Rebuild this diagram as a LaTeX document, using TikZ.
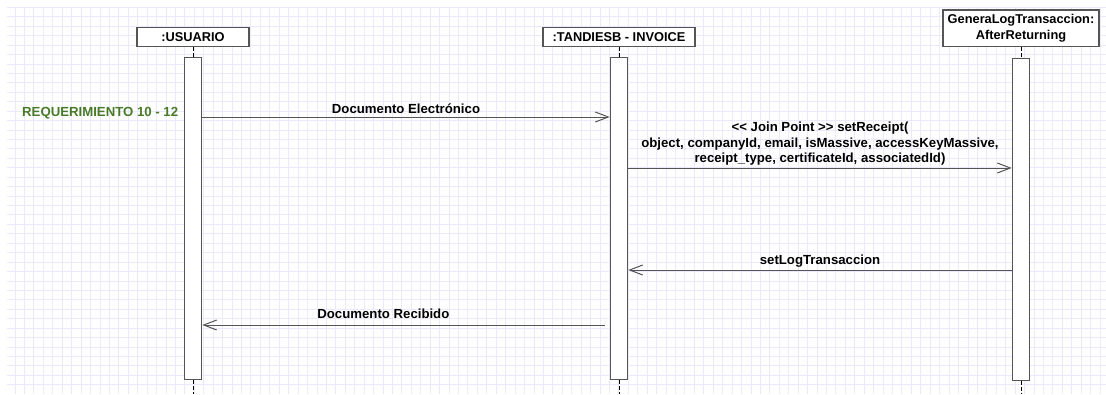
\documentclass[tikz,border=0pt]{standalone}
\usepackage{fontspec}
\setmainfont{Liberation Sans}
\usetikzlibrary{arrows.meta,positioning}
\definecolor{gridblue}{RGB}{234,234,252}
\definecolor{umlgray}{RGB}{85,85,85}
\definecolor{reqgreen}{RGB}{72,122,40}

\begin{document}
\begin{tikzpicture}[
  x=1pt, y=-1pt,
  font=\fontsize{13.2}{15.5}\selectfont\bfseries,
  head/.style={draw=umlgray, line width=1.1pt, fill=white, align=center, minimum height=19pt, inner sep=1pt, font=\fontsize{12.8}{15.5}\selectfont\bfseries},
  bar/.style={draw=umlgray, line width=1.1pt, fill=white, minimum width=17.5pt, minimum height=322pt, inner sep=0pt},
  life/.style={black, line width=0.8pt, dash pattern=on 4pt off 2pt},
  msg/.style={-{Straight Barb[length=13pt,width=10pt]}, draw=umlgray, line width=1pt},
  gridline/.style={gridblue, line width=0.8pt}
]
\useasboundingbox (0,0) rectangle (1106,394);
\fill[white] (0,0) rectangle (1106,394);
\foreach \gx in {0,...,115} \draw[gridline] ({15+\gx*9.435},7) -- ({15+\gx*9.435},394);
\foreach \gy in {0,...,40} \draw[gridline] (7,{7.3+\gy*9.435}) -- (1106,{7.3+\gy*9.435});

\coordinate (m0) at (0,113);
\coordinate (m1) at (0,117);
\coordinate (m2) at (0,168);
\coordinate (m3) at (0,270);
\coordinate (m4) at (0,325);
\coordinate (bot) at (0,394);

\node[head, minimum width=112pt] (usr) at (193,36.75) {:USUARIO};
\node[head, minimum width=152pt] (inv) at (619,36.75) {:TANDIESB - INVOICE};
\node[head, minimum width=156pt, minimum height=36.5pt] (log) at (1021,28.25) {GeneraLogTransaccion:\\AfterReturning};

\node[bar, below=10.5pt of usr] (usrbar) {};
\node[bar, below=10.5pt of inv] (invbar) {};
\node[bar, below=10.5pt of log] (logbar) {};

\foreach \obj in {usr,inv,log} {
  \draw[life] (\obj.south) -- (\obj bar.north);
  \draw[life] (\obj bar.south) -- (\obj bar.south |- bot);
}

\node[text=reqgreen, anchor=east] (req) at ([xshift=-2pt]usrbar.west |- m0) {REQUERIMIENTO 10 - 12};

\draw[msg] (usrbar.east |- m1) -- node[above] {Documento Electrónico} (invbar.west |- m1);
\draw[msg] (invbar.east |- m2) -- node[above, align=center, inner sep=2pt] {<\kern0pt< Join Point >\kern0pt> setReceipt(\\object, companyId, email, isMassive, accessKeyMassive,\\receipt\_type, certificateId, associatedId)} (logbar.west |- m2);
\draw[msg] (logbar.west |- m3) -- node[above, inner sep=2pt] {setLogTransaccion} (invbar.east |- m3);
\draw[msg] ([xshift=-5pt]invbar.west |- m4) -- node[above=3pt, pos=0.55] {Documento Recibido} (usrbar.east |- m4);
\end{tikzpicture}
\end{document}
